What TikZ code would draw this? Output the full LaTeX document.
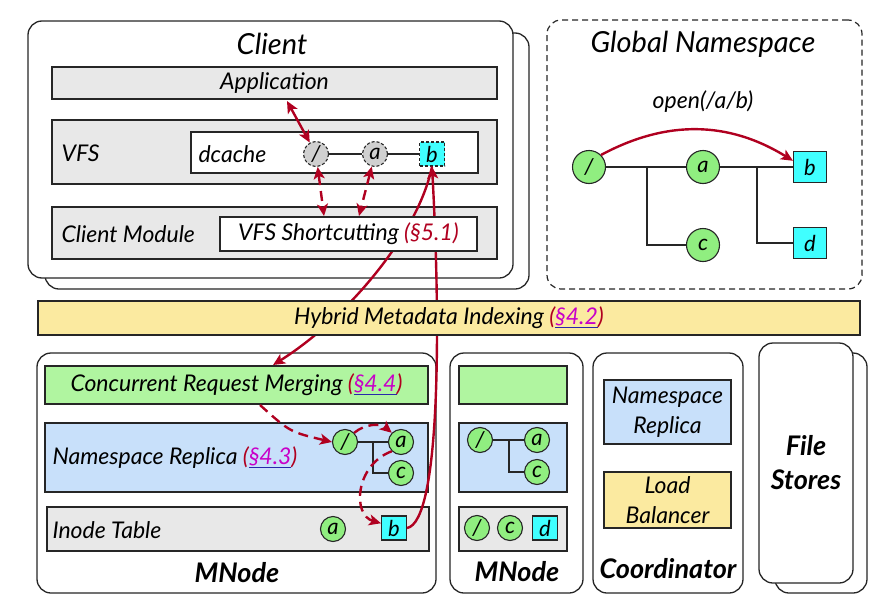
\documentclass[tikz,border=0pt]{standalone}
\usepackage{fontspec}
\setmainfont{Lato}
\usetikzlibrary{arrows.meta}
\definecolor{barGray}{RGB}{232,232,232}
\definecolor{cacheGray}{RGB}{208,208,208}
\definecolor{dirGreen}{RGB}{144,238,128}
\definecolor{mergeGreen}{RGB}{176,245,160}
\definecolor{replBlue}{RGB}{200,224,250}
\definecolor{indexYellow}{RGB}{251,234,160}
\definecolor{fileCyan}{RGB}{64,255,255}
\definecolor{pathRed}{RGB}{176,0,32}
\definecolor{refMagenta}{RGB}{200,0,200}
\definecolor{refBlue}{RGB}{40,40,170}
\pgfdeclarelayer{front}
\pgfsetlayers{main,front}
\newcommand\secref[1]{\textcolor{pathRed}{(}\setbox0=\hbox{\textcolor{refMagenta}{\S#1}}\rlap{\textcolor{refBlue}{\rule[-3pt]{\wd0}{1pt}}}\box0\textcolor{pathRed}{)}}
\tikzstyle{every node}=[font=\fontsize{23}{30}\selectfont\itshape]
\tikzstyle{frame}=[draw=black!85,line width=1.3pt,rounded corners=14pt,fill=white]
\tikzstyle{bar}=[draw=black!85,line width=1.3pt,fill=barGray,inner sep=0pt]
\tikzstyle{panel}=[draw=black!85,line width=1.3pt,fill=white,inner sep=0pt]
\tikzstyle{dir}=[circle,draw=black!85,line width=1.1pt,fill=dirGreen,minimum size=25pt,inner sep=0pt,font=\fontsize{22}{22}\selectfont\itshape]
\tikzstyle{file}=[rectangle,draw=black!85,line width=1.1pt,fill=fileCyan,minimum width=25pt,minimum height=24pt,inner sep=0pt,font=\fontsize{22}{22}\selectfont\itshape]
\tikzstyle{stale}=[dash pattern=on 3pt off 2pt]
\tikzstyle{title}=[font=\fontsize{29}{34}\selectfont\itshape]
\tikzstyle{role}=[font=\fontsize{27}{34}\selectfont\bfseries\itshape]
\tikzstyle{edge}=[draw=black!85,line width=1.3pt]
\tikzstyle{lookup}=[pathRed,line width=2.4pt,-{Stealth[length=12pt,width=11pt,inset=3pt]}]
\tikzstyle{both}=[lookup,{Stealth[length=12pt,width=11pt,inset=3pt]}-{Stealth[length=12pt,width=11pt,inset=3pt]}]
\tikzstyle{hop}=[dash pattern=on 10pt off 6pt]
\begin{document}
\begin{tikzpicture}[x=1pt,y=-1pt]
\useasboundingbox (0,0) rectangle (881,608);
\node[frame,minimum width=484,minimum height=256] (clientback) at (287,161) {};
\node[frame,minimum width=485,minimum height=257] (client) at (270.5,149.5) {};
\node[title] (clienttitle) at (272,44) {Client};
\node[bar,minimum width=445,minimum height=32] (app) at (274.5,83) {Application};
\node[bar,minimum width=445,minimum height=64] (vfs) at (274.5,152) {};
\node[anchor=west] (vfslabel) at (58,153) {VFS};
\node[panel,minimum width=287,minimum height=41] (dcache) at (334.5,152.5) {};
\node[anchor=west] (dcachelabel) at (195,154) {dcache};
\node[dir,stale,fill=cacheGray] (droot) at (316,154) {/};
\node[dir,stale,fill=cacheGray] (da) at (375,154) {a};
\node[file,stale] (db) at (432,154) {b};
\draw[edge] (droot) -- (da) (da) -- (db);
\node[bar,minimum width=445,minimum height=52] (cm) at (274.5,233) {};
\node[anchor=west] (cmlabel) at (58,234) {Client Module};
\begin{pgfonlayer}{front}
\node[panel,minimum width=257,minimum height=34] (vsc) at (348.5,234) {VFS Shortcutting \textcolor{pathRed}{(\S5.1)}};
\node[bar,fill=indexYellow,minimum width=822,minimum height=34] (hmi) at (449,318) {Hybrid Metadata Indexing \secref{4.2}};
\end{pgfonlayer}
\coordinate (appout) at (287,101);
\coordinate (vscin1) at (324,216);
\coordinate (vscin2) at (359,216);
\draw[both] (appout) -- (droot);
\draw[both,hop] (droot) -- (vscin1);
\draw[both,hop] (da) -- (vscin2);

\node[frame,dash pattern=on 6pt off 4pt,line width=1.2pt,minimum width=315,minimum height=269] (gns) at (704.5,154.5) {};
\node[title] (gnstitle) at (703,44) {Global Namespace};
\node (open) at (703,102) {open(/a/b)};
\node[dir,minimum size=33pt] (groot) at (589,167) {/};
\node[dir,minimum size=33pt] (ga) at (703,167) {a};
\node[dir,minimum size=33pt] (gc) at (703,245) {c};
\node[file,minimum width=33pt,minimum height=31pt] (gb) at (810,167) {b};
\node[file,minimum width=33pt,minimum height=31pt] (gd) at (810,243) {d};
\coordinate (gfork) at (647,167);
\coordinate (gfork2) at (757,167);
\draw[edge] (groot) -- (ga) (ga) -- (gb) (gfork) |- (gc) (gfork2) |- (gd);
\draw[lookup] (groot.north east) to[bend left=30] (gb.160);

\node[frame,minimum width=399,minimum height=240] (mnode) at (236.5,473) {};
\node[bar,fill=mergeGreen,minimum width=383,minimum height=38] (crm) at (236.5,385) {Concurrent Request Merging \secref{4.4}};
\node[bar,fill=replBlue,minimum width=383,minimum height=69] (nsr) at (236.5,457.5) {};
\node[anchor=west] (nsrlabel) at (49,458) {Namespace Replica \secref{4.3}};
\node[bar,minimum width=382,minimum height=44] (itab) at (238,529) {};
\node[anchor=west] (itablabel) at (49,530) {Inode Table};
\node[dir] (mroot) at (345,442) {/};
\node[dir] (ma) at (401,442) {a};
\node[dir] (mc) at (401,473) {c};
\coordinate (mfork) at (373,442);
\draw[edge] (mroot) -- (ma) (mfork) |- (mc);
\node[dir] (ia) at (333,529) {a};
\node[file] (ib) at (394,528) {b};
\node[role] (mnodelabel) at (237,573) {MNode};

\node[frame,minimum width=133,minimum height=240] (mnode2) at (516.5,473) {};
\node[bar,fill=mergeGreen,minimum width=108,minimum height=38] (crm2) at (513,385) {};
\node[bar,fill=replBlue,minimum width=108,minimum height=69] (nsr2) at (513,457.5) {};
\node[bar,minimum width=108,minimum height=44] (itab2) at (513,529) {};
\node[dir] (nroot) at (480,440) {/};
\node[dir] (na) at (537,440) {a};
\node[dir] (nc) at (537,472) {c};
\coordinate (nfork) at (509,440);
\draw[edge] (nroot) -- (na) (nfork) |- (nc);
\node[dir] (sroot) at (477,528) {/};
\node[dir] (sc) at (510,528) {c};
\node[file] (sd) at (545,528) {d};
\node[role] (mnode2label) at (517,572) {MNode};

\node[frame,minimum width=150,minimum height=240] (coord) at (668,473) {};
\node[bar,fill=replBlue,minimum width=127,minimum height=64,align=center] (nsr3) at (667.5,412) {Namespace\\Replica};
\node[bar,fill=indexYellow,minimum width=127,minimum height=56,align=center] (lb) at (667.5,500) {Load\\Balancer};
\node[role] (coordlabel) at (668,569) {Coordinator};

\node[frame,minimum width=92,minimum height=240] (storeback) at (821,473) {};
\node[frame,minimum width=94,minimum height=240,role,align=center] (store) at (806,463) {File\\Stores};

\coordinate (crmin) at (273,365);
\coordinate (crmout) at (260,405);
\draw[lookup] (db.south) .. controls (418,235) and (345,320) .. (crmin);
\draw[lookup] (ib.east) .. controls (440,522) and (441,330) .. (db.south);
\draw[lookup,hop] (crmout) .. controls (290,432) .. (mroot.west);
\draw[lookup,hop] (mroot.north east) to[bend left=40] (ma.north west);
\draw[lookup,hop] (ma.south west) .. controls (355,465) and (352,515) .. (ib.160);
\end{tikzpicture}
\end{document}
